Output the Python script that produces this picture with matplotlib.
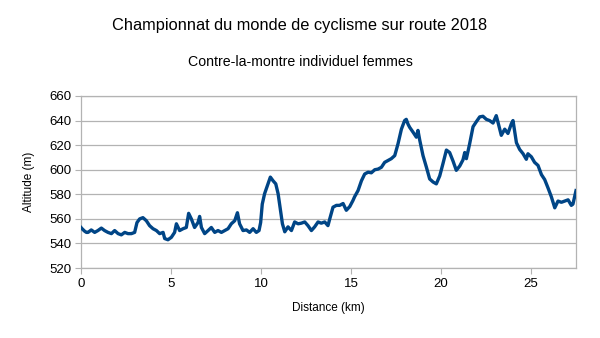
import matplotlib
matplotlib.use("Agg")
import matplotlib.pyplot as plt

plt.rcParams['font.family'] = ['Liberation Sans', 'DejaVu Sans']

title = "Championnat du monde de cyclisme sur route 2018"
subtitle = "Contre-la-montre individuel femmes"
x_label = "Distance (km)"
y_label = "Altitude (m)"

distance_km = [0.0, 0.06, 0.2, 0.3, 0.39, 0.57, 0.76, 0.94, 1.13, 1.31, 1.5, 1.69, 1.87, 2.06, 2.24,
               2.43, 2.61, 2.8, 2.98, 3.11, 3.26, 3.44, 3.63, 3.81, 4.0, 4.19, 4.37, 4.56, 4.65, 4.83,
               5.02, 5.2, 5.3, 5.48, 5.67, 5.85, 5.98, 6.13, 6.31, 6.5, 6.59, 6.69, 6.87, 7.06, 7.24,
               7.43, 7.61, 7.8, 7.98, 8.17, 8.35, 8.54, 8.69, 8.81, 9.0, 9.19, 9.37, 9.56, 9.74, 9.89,
               9.98, 10.07, 10.2, 10.39, 10.52, 10.67, 10.82, 10.95, 11.08, 11.19, 11.32, 11.5, 11.69,
               11.87, 12.06, 12.24, 12.43, 12.61, 12.8, 12.98, 13.17, 13.35, 13.54, 13.72, 13.82, 14.0,
               14.19, 14.37, 14.56, 14.74, 14.93, 15.11, 15.2, 15.39, 15.58, 15.76, 15.95, 16.13, 16.32,
               16.5, 16.69, 16.87, 17.06, 17.24, 17.43, 17.61, 17.8, 17.98, 18.07, 18.17, 18.26, 18.45,
               18.63, 18.72, 18.82, 19.0, 19.19, 19.37, 19.56, 19.74, 19.93, 20.11, 20.3, 20.48, 20.67,
               20.85, 21.04, 21.22, 21.32, 21.41, 21.59, 21.78, 21.96, 22.15, 22.33, 22.52, 22.7, 22.89,
               23.07, 23.16, 23.35, 23.54, 23.72, 23.91, 24.0, 24.19, 24.37, 24.56, 24.74, 24.83, 25.02,
               25.2, 25.39, 25.58, 25.76, 25.95, 26.13, 26.32, 26.5, 26.69, 26.87, 27.06, 27.24, 27.33,
               27.5]

altitude_m = [553, 552, 550, 549, 549, 551, 549, 550.5, 552.5, 550.5, 549, 548, 550.5, 548, 547,
              549, 548, 548, 549, 557, 560, 561, 558.5, 554.5, 552, 550.5, 548, 549, 544, 543,
              545, 549, 556, 550.5, 552, 553, 564.5, 560, 553, 557, 562, 553, 548, 550.5, 553,
              549, 550.5, 549, 550.5, 552, 556, 558.5, 565, 556, 550.5, 551, 549, 552, 549, 550.5,
              557, 572, 580.5, 588.5, 594, 591, 588.5, 580.5, 567, 556, 549.5, 553.5, 550.5,
              557.5, 556, 556.5, 557.5, 554.5, 550.5, 553.5, 557.5, 556.5, 557.5, 554.5, 560, 569.5,
              571, 571, 572.5, 567, 570, 575, 578, 583, 591, 596.5, 598, 597.5, 600,
              600.5, 602, 606, 607.5, 609, 611.5, 621, 633, 640, 641, 637, 634.5, 630.5,
              626.5, 632, 624, 611.5, 602, 592.5, 590, 588.5, 595, 605, 616, 614, 607,
              599.5, 603, 608, 614, 609, 621, 635, 639, 643, 643.5, 641, 640, 638,
              644, 639, 628, 633, 629.5, 637.5, 640, 622, 616.5, 613, 608.5, 613, 610.5,
              606, 603.5, 596, 592, 585, 578, 569, 574.5, 573.5, 574.5, 575.5, 571, 572,
              583]

y_ticks = [520, 540, 560, 580, 600, 620, 640, 660]
x_ticks = [0, 5, 10, 15, 20, 25]

fig = plt.figure(figsize=(6.0, 3.38), dpi=100)
ax = fig.add_axes([0.135, 0.207, 0.825, 0.509])

ax.plot(distance_km, altitude_m, color='#004586', linewidth=2.4, solid_joinstyle='round', zorder=3)

ax.set_xlim(0, 27.5)
ax.set_ylim(520, 660)
ax.set_xticks(x_ticks)
ax.set_yticks(y_ticks)
ax.grid(axis='y', color='#b3b3b3', linewidth=0.9)
ax.set_axisbelow(True)
for s in ax.spines.values():
    s.set_color('#b3b3b3')
    s.set_linewidth(0.9)
ax.tick_params(axis='both', which='major', length=4, color='#b3b3b3', labelsize=9.5, labelcolor='black', pad=3)

ax.set_xlabel(x_label, fontsize=8.5, labelpad=9)
ax.set_ylabel(y_label, fontsize=8.5, labelpad=10)

fig.text(0.5, 0.925, title, ha='center', va='center', fontsize=11.8)
fig.text(0.5, 0.818, subtitle, ha='center', va='center', fontsize=10.2)

fig.savefig('out.png', dpi=100)
